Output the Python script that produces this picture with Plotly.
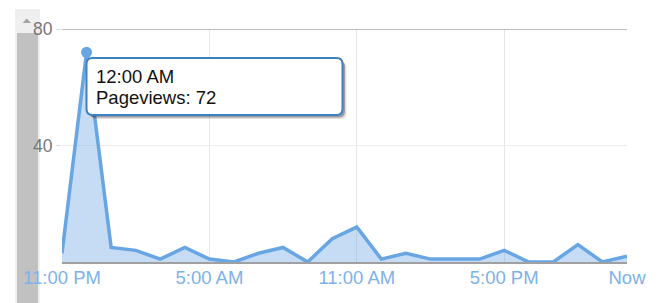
import plotly.graph_objects as go

# ---- data ----
hours = list(range(24))
pageviews = [3, 72, 5, 4, 1, 5, 1, 0, 3, 5, 0, 8, 12, 1, 3, 1, 1, 1, 4, 0, 0, 6, 0, 2]
x_tick_vals = [0, 6, 12, 18, 23]
x_tick_text = ["11:00 PM", "5:00 AM", "11:00 AM", "5:00 PM", "Now"]
y_tick_vals = [40, 80]
tip_index = 1
tip_time = "12:00 AM"
series_name = "Pageviews"

# ---- layout geometry ----
W, H = 662, 303
L, R, T, B = 62, 35, 29, 41
PW, PH = W - L - R, H - T - B

LINE = "#67a5e3"
FILL = "rgba(110,168,228,0.40)"
FONT = "Liberation Sans, Arial, sans-serif"


def px(x):
    return (x - L) / PW


def py(y):
    return (H - B - y) / PH


def rrect(x0, y0, x1, y1, r):
    # rounded rectangle in pixel coords -> paper path
    rx, ry = r / PW, r / PH
    a, b, c, d = px(x0), py(y1), px(x1), py(y0)  # a left, b bottom, c right, d top
    return (f"M {a+rx},{d} L {c-rx},{d} Q {c},{d} {c},{d-ry} "
            f"L {c},{b+ry} Q {c},{b} {c-rx},{b} L {a+rx},{b} "
            f"Q {a},{b} {a},{b+ry} L {a},{d-ry} Q {a},{d} {a+rx},{d} Z")


fig = go.Figure()
fig.add_trace(go.Scatter(
    x=hours, y=pageviews, mode="lines", fill="tozeroy",
    line=dict(color=LINE, width=3.5), fillcolor=FILL, hoverinfo="skip",
))
fig.add_trace(go.Scatter(
    x=[hours[tip_index]], y=[pageviews[tip_index]], mode="markers",
    marker=dict(color=LINE, size=11), hoverinfo="skip",
))

shapes = []
# scrollbar (left)
shapes.append(dict(type="rect", xref="paper", yref="paper", layer="below",
                   x0=px(15), x1=px(40), y0=py(9), y1=py(H + 5),
                   fillcolor="#efefef", line=dict(width=0)))
shapes.append(dict(type="rect", xref="paper", yref="paper", layer="below",
                   x0=px(17), x1=px(38), y0=py(33), y1=py(H + 5),
                   fillcolor="#c1c1c1", line=dict(width=0)))
shapes.append(dict(type="path", xref="paper", yref="paper", layer="below",
                   path=f"M {px(22.5)},{py(23)} L {px(31)},{py(23)} L {px(26.75)},{py(18.5)} Z",
                   fillcolor="#a3a3a3", line=dict(width=0)))
# top frame line at max
shapes.append(dict(type="line", xref="x", yref="y", x0=hours[0], x1=hours[-1],
                   y0=y_tick_vals[-1], y1=y_tick_vals[-1],
                   line=dict(color="#bdbdbd", width=2)))
# tooltip shadow + box
bx0, by0, bx1, by1 = 86.5, 58, 342.5, 115
shapes.append(dict(type="path", xref="paper", yref="paper",
                   path=rrect(bx0 + 4, by0 + 4, bx1 + 4, by1 + 4, 6),
                   fillcolor="rgba(0,0,0,0.12)", line=dict(width=0)))
shapes.append(dict(type="path", xref="paper", yref="paper",
                   path=rrect(bx0 + 2.5, by0 + 2.5, bx1 + 2.5, by1 + 2.5, 6),
                   fillcolor="rgba(0,0,0,0.30)", line=dict(width=0)))
shapes.append(dict(type="path", xref="paper", yref="paper",
                   path=rrect(bx0, by0, bx1, by1, 6),
                   fillcolor="white", line=dict(color="#3d80c4", width=2)))

annotations = [
    dict(xref="paper", yref="paper", x=px(94), y=py(76), xanchor="left", yanchor="middle",
         text=tip_time, showarrow=False, font=dict(family=FONT, size=18.5, color="#111111")),
    dict(xref="paper", yref="paper", x=px(94), y=py(97.5), xanchor="left", yanchor="middle",
         text=f"{series_name}: {pageviews[tip_index]}", showarrow=False,
         font=dict(family=FONT, size=18.5, color="#111111")),
]

fig.update_layout(
    width=W, height=H, margin=dict(l=L, r=R, t=T, b=B, pad=0),
    paper_bgcolor="white", plot_bgcolor="white", showlegend=False,
    shapes=shapes, annotations=annotations,
    xaxis=dict(range=[hours[0], hours[-1]], tickvals=x_tick_vals, ticktext=x_tick_text,
               showgrid=True, gridcolor="#e6e6e6", gridwidth=1, zeroline=False,
               showline=True, linecolor="#a0a0a0", linewidth=1.5, ticks="",
               tickfont=dict(family=FONT, size=18.5, color="#7db2e8"),
               ticklabelstandoff=-2),
    yaxis=dict(range=[0, y_tick_vals[-1]], tickvals=y_tick_vals,
               showgrid=True, gridcolor="#ebebeb", gridwidth=1, zeroline=False,
               showline=False, ticks="outside", ticklen=5, tickcolor="#dddddd",
               tickfont=dict(family=FONT, size=17.5, color="#777777")),
)

fig.write_html("out.html")
